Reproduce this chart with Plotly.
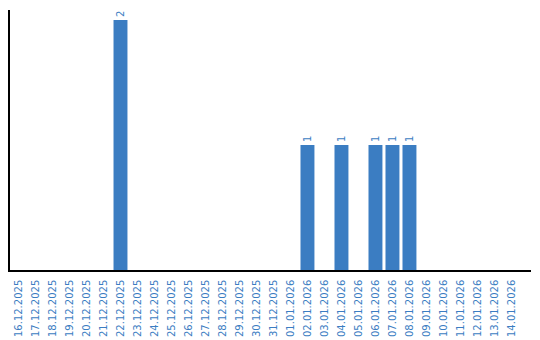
import plotly.graph_objects as go

dates = ["16.12.2025", "17.12.2025", "18.12.2025", "19.12.2025", "20.12.2025",
         "21.12.2025", "22.12.2025", "23.12.2025", "24.12.2025", "25.12.2025",
         "26.12.2025", "27.12.2025", "28.12.2025", "29.12.2025", "30.12.2025",
         "31.12.2025", "01.01.2026", "02.01.2026", "03.01.2026", "04.01.2026",
         "05.01.2026", "06.01.2026", "07.01.2026", "08.01.2026", "09.01.2026",
         "10.01.2026", "11.01.2026", "12.01.2026", "13.01.2026", "14.01.2026"]
counts = [0, 0, 0, 0, 0, 0, 2, 0, 0, 0, 0, 0, 0, 0, 0,
          0, 0, 1, 0, 1, 0, 1, 1, 1, 0, 0, 0, 0, 0, 0]

BLUE = "#3b7dc2"
labels = [str(v) if v else "" for v in counts]

fig = go.Figure(go.Bar(
    x=dates, y=counts, marker_color=BLUE, marker_line_width=0,
    text=labels, textposition="outside", textangle=-90,
    textfont=dict(color=BLUE, size=10, family="DejaVu Sans"),
    cliponaxis=False,
))
fig.update_layout(
    width=540, height=340,
    margin=dict(l=10, r=9, t=10, b=70, autoexpand=False),
    paper_bgcolor="white", plot_bgcolor="white",
    bargap=0.18, showlegend=False,
    font=dict(family="DejaVu Sans", size=10, color=BLUE),
)
fig.update_xaxes(type="category", range=[-0.5, 30.15], showline=True, linecolor="black",
                 linewidth=1.5, tickangle=-90, ticks="outside", ticklen=4, tickcolor="white",
                 showgrid=False, automargin=False,
                 tickfont=dict(color=BLUE, size=10, family="DejaVu Sans"))
fig.update_yaxes(range=[0, 2.08], showline=True, linecolor="black", linewidth=1.5,
                 showticklabels=False, showgrid=False, zeroline=False, ticks="",
                 automargin=False)
fig.write_html("out.html")
